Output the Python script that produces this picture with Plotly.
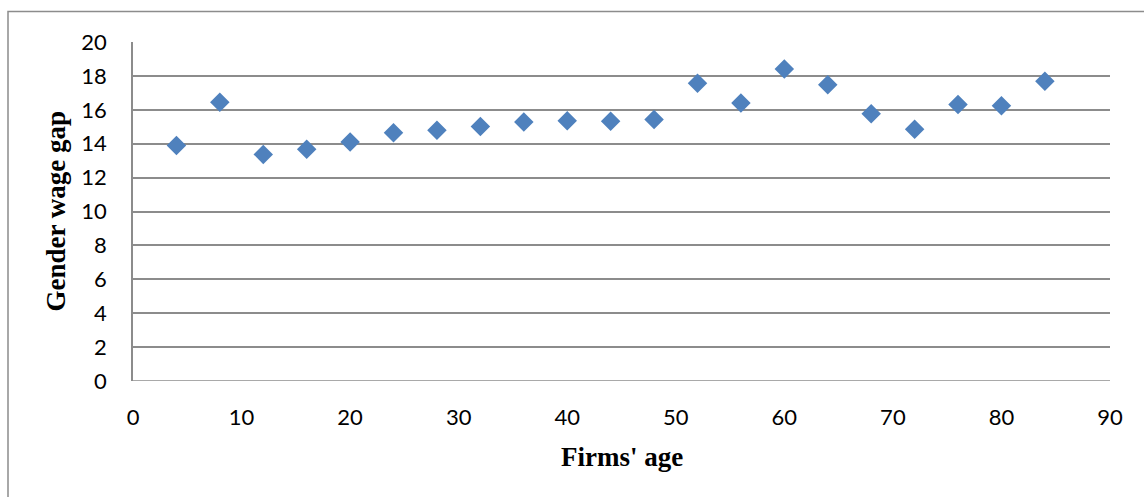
import plotly.graph_objects as go

# Firms' age (years) and the corresponding gender wage gap
firm_age = [4, 8, 12, 16, 20, 24, 28, 32, 36, 40, 44, 48,
            52, 56, 60, 64, 68, 72, 76, 80, 84]
wage_gap = [13.9, 16.45, 13.37, 13.67, 14.1, 14.65, 14.79, 15.02, 15.28, 15.36, 15.33, 15.43,
            17.56, 16.4, 18.4, 17.48, 15.77, 14.85, 16.32, 16.24, 17.69]

x_ticks = [0, 10, 20, 30, 40, 50, 60, 70, 80, 90]
y_ticks = [0, 2, 4, 6, 8, 10, 12, 14, 16, 18, 20]

W, H = 1144, 497
L, R, T, B = 133, 34, 41.5, 116
pw, ph = W - L - R, H - T - B

fig = go.Figure(go.Scatter(
    x=firm_age, y=wage_gap, mode="markers",
    marker=dict(symbol="diamond", size=15, color="#4F81BD", line=dict(width=0)),
    hoverinfo="x+y",
))

tick_font = dict(family="Lato, Carlito, sans-serif", size=22, color="#000000")
title_font = dict(family="Liberation Serif, serif", size=27, color="#000000")
clear = "rgba(0,0,0,0)"

fig.update_layout(
    width=W, height=H,
    margin=dict(l=L, r=R, t=T, b=B, pad=0),
    paper_bgcolor="white", plot_bgcolor="white",
    showlegend=False,
    xaxis=dict(
        range=[0, 90], tickvals=x_ticks, ticktext=[str(v) for v in x_ticks],
        showgrid=False, zeroline=False, showline=False,
        ticks="outside", ticklen=17, tickcolor=clear, tickfont=tick_font,
    ),
    yaxis=dict(
        range=[0, 20], tickvals=y_ticks, ticktext=[str(v) for v in y_ticks],
        showgrid=True, gridcolor="#8C8C8C", gridwidth=1.5,
        zeroline=False, showline=True, linecolor="#8C8C8C", linewidth=1.5,
        ticks="outside", ticklen=20, tickcolor=clear, tickfont=tick_font,
    ),
    shapes=[
        # outer chart border
        dict(type="rect", xref="paper", yref="paper",
             x0=(8 - L) / pw, x1=(W + 5 - L) / pw,
             y0=-(H + 5 - T - ph) / ph, y1=(H - 11 - B) / ph,
             line=dict(color="#8C8C8C", width=1.5), fillcolor=clear,
             layer="below"),
        # bottom axis line
        dict(type="line", xref="paper", yref="y", x0=0, x1=1, y0=0, y1=0,
             line=dict(color="#8C8C8C", width=1.5), layer="below"),
    ],
    annotations=[
        dict(text="<b>Firms' age</b>", xref="paper", yref="paper",
             x=0.5, y=-(456.7 - T - ph) / ph, xanchor="center", yanchor="middle",
             showarrow=False, font=title_font),
        dict(text="<b>Gender wage gap</b>", xref="paper", yref="paper",
             x=(55 - L) / pw, y=0.5, xanchor="center", yanchor="middle",
             textangle=-90, showarrow=False, font=title_font),
    ],
)

fig.write_html("out.html")
